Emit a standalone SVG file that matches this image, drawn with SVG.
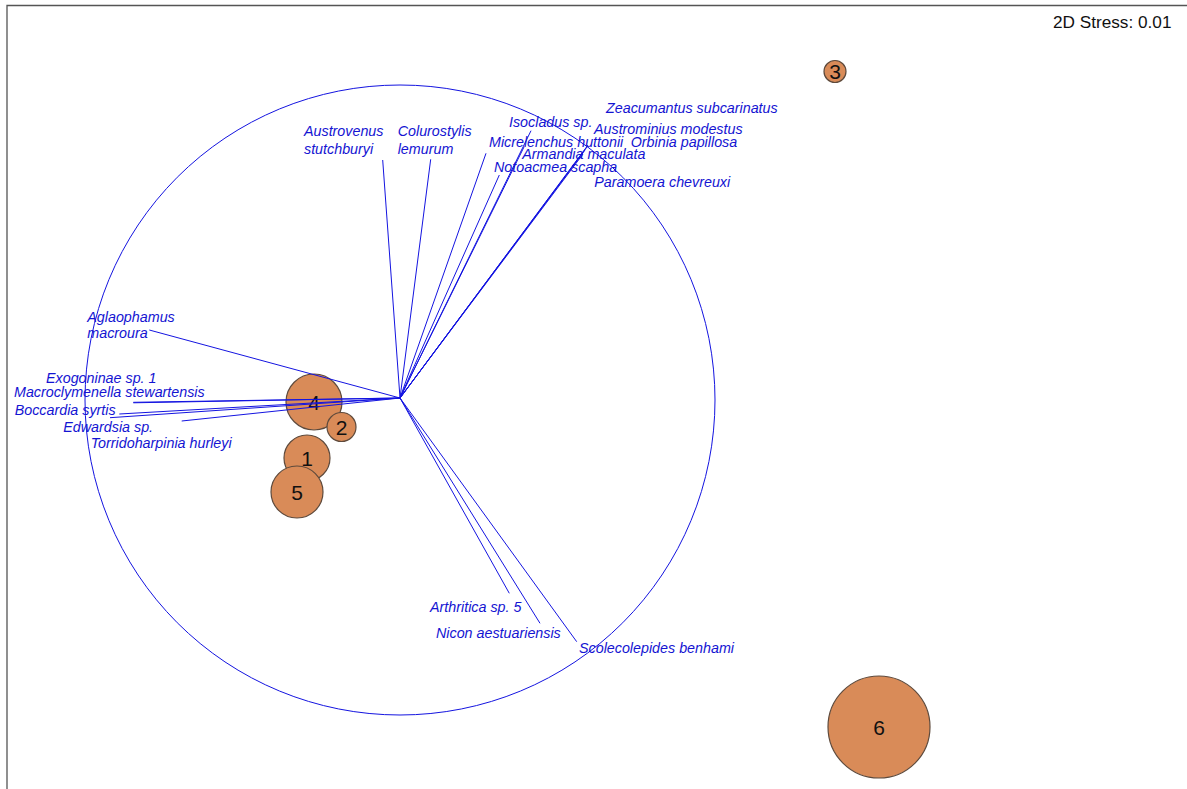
<svg xmlns="http://www.w3.org/2000/svg" width="1187" height="789" viewBox="0 0 1187 789">
<style>
.sp{font-family:"Liberation Sans",Arial,sans-serif;font-style:italic;font-size:14.3px;fill:#1414d2}
.vec line{stroke:#1414e0;stroke-width:1}
.bub circle{fill:#d98b58;stroke:#5e4a3c;stroke-width:1.2}
.num{font-family:"Liberation Sans",Arial,sans-serif;font-size:21px;fill:#111;text-anchor:middle}
</style>
<rect x="0" y="0" width="1187" height="789" fill="#fff"/>
<path d="M7 789 V5.5 H1187" fill="none" stroke="#555" stroke-width="1.3"/>
<text x="1053" y="28" font-family="Liberation Sans,Arial,sans-serif" font-size="17.2" fill="#111">2D Stress: 0.01</text>
<circle cx="400" cy="400" r="315" fill="none" stroke="#1414e0" stroke-width="1"/>
<g id="bubbles" class="bub">
<g id="s4"><circle cx="314" cy="402" r="28"/><text class="num" x="314" y="409.5">4</text></g>
<g id="s2"><circle cx="341.5" cy="427" r="14.5"/><text class="num" x="341.5" y="434.5">2</text></g>
<g id="s1"><circle cx="307" cy="458" r="23"/><text class="num" x="307" y="465.5">1</text></g>
<g id="s5"><circle cx="297" cy="492" r="26"/><text class="num" x="297" y="499.5">5</text></g>
<g id="s3"><circle cx="835" cy="71.5" r="11"/><text class="num" x="835" y="79">3</text></g>
<g id="s6"><circle cx="879" cy="727" r="51"/><text class="num" x="879" y="734.5">6</text></g>
</g>
<g id="connectors" class="vec">
<line x1="400" y1="398" x2="382.7" y2="160"/>
<line x1="400" y1="398" x2="430.7" y2="159.3"/>
<line x1="400" y1="398" x2="486" y2="153.3"/>
<line x1="400" y1="398" x2="499.3" y2="175"/>
<line x1="400" y1="398" x2="531" y2="130.7"/>
<line x1="400" y1="398" x2="524" y2="147"/>
<line x1="400" y1="398" x2="588" y2="145"/>
<line x1="400" y1="398" x2="587" y2="147"/>
<line x1="400" y1="398" x2="585" y2="150"/>
<line x1="400" y1="398" x2="583" y2="154"/>
<line x1="400" y1="398" x2="149.3" y2="330"/>
<line x1="400" y1="398" x2="133.3" y2="402.3"/>
<line x1="400" y1="398" x2="133.3" y2="402.8"/>
<line x1="400" y1="398" x2="119.3" y2="414"/>
<line x1="400" y1="398" x2="110" y2="417.7"/>
<line x1="400" y1="398" x2="181.7" y2="421"/>
<line x1="400" y1="398" x2="509.3" y2="593.3"/>
<line x1="400" y1="398" x2="540" y2="623.3"/>
<line x1="400" y1="398" x2="576.7" y2="641.7"/>
</g>
<g id="labels">
<text id="zeacumantus" class="sp" x="606" y="112.7">Zeacumantus subcarinatus</text>
<text id="austrovenus" class="sp" x="304" y="135.7">Austrovenus<tspan x="304" y="153.5">stutchburyi</tspan></text>
<text id="colurostylis" class="sp" x="397.7" y="135.7">Colurostylis<tspan x="397.7" y="154">lemurum</tspan></text>
<text id="isocladus" class="sp" x="509" y="126.7">Isocladus sp.</text>
<text id="austrominius" class="sp" x="594" y="134.3">Austrominius modestus</text>
<text id="micrelenchus" class="sp" x="489" y="147.3">Micrelenchus huttonii</text>
<text id="orbinia" class="sp" x="630.7" y="146.7">Orbinia papillosa</text>
<text id="armandia" class="sp" x="522.3" y="159">Armandia maculata</text>
<text id="notoacmea" class="sp" x="494" y="171.7">Notoacmea scapha</text>
<text id="paramoera" class="sp" x="594.3" y="187">Paramoera chevreuxi</text>
<text id="aglaophamus" class="sp" x="87.3" y="321.7">Aglaophamus<tspan x="87.3" y="338.3">macroura</tspan></text>
<text id="exogoninae" class="sp" x="46" y="383.3">Exogoninae sp. 1</text>
<text id="macroclymenella" class="sp" x="14" y="396.7">Macroclymenella stewartensis</text>
<text id="boccardia" class="sp" x="14.7" y="415">Boccardia syrtis</text>
<text id="edwardsia" class="sp" x="63.3" y="431.7">Edwardsia sp.</text>
<text id="torridoharpinia" class="sp" x="90.7" y="448.3">Torridoharpinia hurleyi</text>
<text id="arthritica" class="sp" x="430" y="611.7">Arthritica sp. 5</text>
<text id="nicon" class="sp" x="436" y="638.3">Nicon aestuariensis</text>
<text id="scolecolepides" class="sp" x="579" y="653.3">Scolecolepides benhami</text>
</g>
</svg>
